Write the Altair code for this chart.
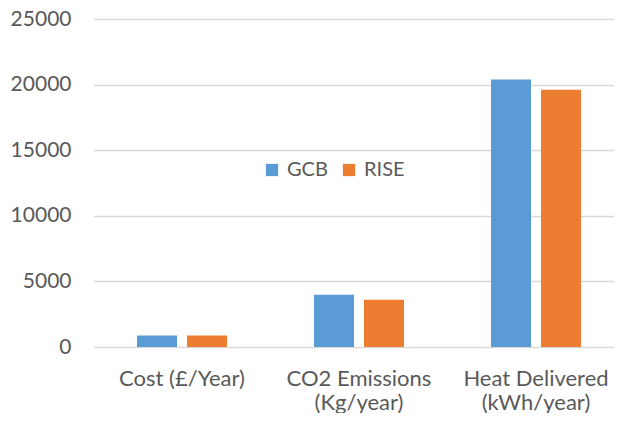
import altair as alt
import pandas as pd

categories = ["Cost (£/Year)", "CO2 Emissions|(Kg/year)", "Heat Delivered|(kWh/year)"]
series = ["GCB", "RISE"]
gcb_values = [870, 3980, 20390]
rise_values = [870, 3600, 19600]
y_ticks = [0, 5000, 10000, 15000, 20000, 25000]
colors = ["#5B9BD5", "#ED7D31"]

rows = []
for c, g, r in zip(categories, gcb_values, rise_values):
    rows.append({"category": c, "series": "GCB", "value": g})
    rows.append({"category": c, "series": "RISE", "value": r})
df = pd.DataFrame(rows)

FONT = "Lato"
TEXT = "#595959"

chart = alt.Chart(df).mark_bar().encode(
    x=alt.X("category:N", sort=categories,
            scale=alt.Scale(range=[0.5, 531.5], paddingInner=0, paddingOuter=0),
            axis=alt.Axis(title=None, labelAngle=0, domain=False, ticks=False,
                          labelExpr="split(datum.label, '|')",
                          labelFont=FONT, labelFontSize=22, labelColor=TEXT,
                          labelPadding=21, labelLineHeight=24)),
    xOffset=alt.XOffset("series:N", sort=series,
                        scale=alt.Scale(paddingInner=0.2, paddingOuter=0.87)),
    y=alt.Y("value:Q", scale=alt.Scale(domain=[0, 25000]),
            axis=alt.Axis(title=None, values=y_ticks, format="d", domain=False, ticks=False,
                          labelFont=FONT, labelFontSize=21, labelColor=TEXT,
                          labelPadding=22, gridColor="#D9D9D9", gridWidth=1.5)),
    color=alt.Color("series:N", sort=series,
                    scale=alt.Scale(domain=series, range=colors),
                    legend=alt.Legend(title=None, orient="none", legendX=169, legendY=141,
                                      direction="horizontal", symbolType="square",
                                      symbolSize=150, symbolStrokeWidth=0,
                                      labelFont=FONT, labelFontSize=20, labelColor=TEXT,
                                      labelOffset=5, columnPadding=11, padding=0)),
).properties(
    width=521, height=328,
    autosize=alt.AutoSizeParams(type="none"),
    padding={"left": 85, "top": 11, "right": 0, "bottom": 66},
).configure_view(stroke=None)

chart.save("out.html", embed_options={"renderer": "svg", "actions": False})
